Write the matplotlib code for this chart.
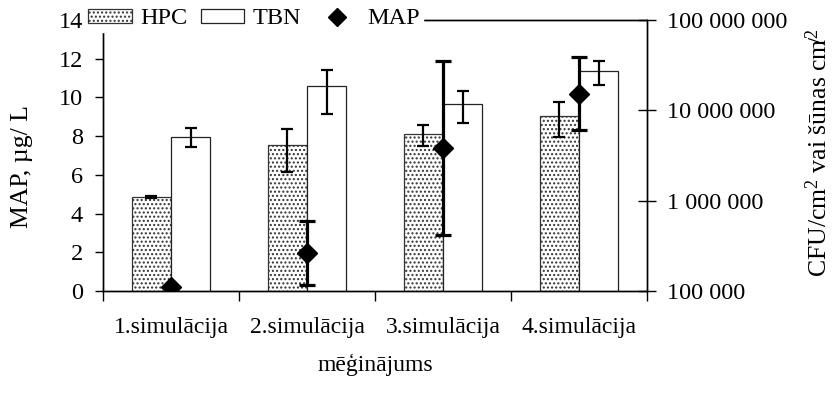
import matplotlib
matplotlib.use("Agg")
import matplotlib.pyplot as plt
import numpy as np
from matplotlib.lines import Line2D
from matplotlib.ticker import FixedLocator, FuncFormatter, NullFormatter, NullLocator

plt.rcParams['font.family'] = ['Liberation Serif', 'DejaVu Serif']
plt.rcParams['mathtext.fontset'] = 'custom'
plt.rcParams['mathtext.rm'] = 'Liberation Serif'
plt.rcParams['mathtext.it'] = 'Liberation Serif:italic'
plt.rcParams['hatch.linewidth'] = 1.0

# Data
categories = ["1.simulācija", "2.simulācija", "3.simulācija", "4.simulācija"]
hpc = [1.10e6, 4.13e6, 5.45e6, 8.65e6]
hpc_err = [0.03e6, 2.05e6, 1.45e6, 3.6e6]
tbn = [5.13e6, 1.87e7, 1.18e7, 2.70e7]
tbn_err = [1.2e6, 0.96e7, 4.5e6, 8.0e6]
map_vals = [0.2, 1.95, 7.4, 10.2]
map_err = [0.0, 1.65, 4.5, 1.9]
map_ticks = [0, 2, 4, 6, 8, 10, 12, 14]
cfu_ticks = [1e5, 1e6, 1e7, 1e8]

FS = 17.5      # tick numbers and legend
FS_CAT = 17    # category names and x title
FS_Y = 18.5    # vertical axis titles

fig = plt.figure(figsize=(8.34, 3.93), dpi=100)
ax_bars = fig.add_axes([103/834, 1-291/393, (647-103)/834, (291-20)/393])
ax_map = ax_bars.twinx()

x = np.arange(len(categories))
w = 0.287

# Bars on the logarithmic CFU axis
ax_bars.set_yscale('log')
ax_bars.set_ylim(1e5, 1e8)
ax_bars.bar(x - w/2, hpc, w, facecolor='white', edgecolor='#333333',
            linewidth=0.9, hatch='....', label='HPC', zorder=2)
ax_bars.bar(x + w/2, tbn, w, facecolor='white', edgecolor='#222222',
            linewidth=0.9, label='TBN', zorder=2)
ax_bars.errorbar(x - w/2, hpc, yerr=hpc_err, fmt='none', ecolor='black',
                 elinewidth=1.6, capsize=4.5, capthick=1.6, zorder=3)
ax_bars.errorbar(x + w/2, tbn, yerr=tbn_err, fmt='none', ecolor='black',
                 elinewidth=1.6, capsize=4.5, capthick=1.6, zorder=3)

# MAP on the linear axis
ax_map.set_ylim(0, 14)
ax_map.errorbar(x, map_vals, yerr=map_err, fmt='D', color='black', ms=10.5,
                elinewidth=2.3, capsize=6, capthick=2.3, zorder=4)

ax_bars.set_xlim(-0.5, 3.5)

# Axis placement: MAP left, CFU right
ax_map.yaxis.tick_left()
ax_map.yaxis.set_label_position('left')
ax_bars.yaxis.tick_right()
ax_bars.yaxis.set_label_position('right')

ax_map.set_yticks(map_ticks)
ax_map.tick_params(axis='y', which='major', direction='out', length=5.5, width=1,
                   labelsize=FS, pad=9)
ax_map.set_ylabel("MAP, µg/ L", fontsize=FS_Y, labelpad=18)
ax_map.yaxis.label.set_y(0.46)

ax_bars.yaxis.set_major_locator(FixedLocator(cfu_ticks))
ax_bars.yaxis.set_minor_locator(NullLocator())
ax_bars.yaxis.set_major_formatter(FuncFormatter(lambda v, p: f"{int(round(v)):,}".replace(",", " ")))
ax_bars.tick_params(axis='y', which='major', direction='inout', length=13, width=1,
                    labelsize=FS, pad=8)
ax_bars.set_ylabel(r"CFU/cm$^{2}$ vai šūnas cm$^{2}\!\!\!\!\!$/", fontsize=FS_Y, labelpad=13)
ax_bars.yaxis.label.set_y(0.51)

# Category boundaries as ticks, names between them
ax_bars.xaxis.set_major_locator(FixedLocator([-0.5, 0.5, 1.5, 2.5, 3.5]))
ax_bars.xaxis.set_major_formatter(NullFormatter())
ax_bars.xaxis.set_minor_locator(FixedLocator(x))
ax_bars.xaxis.set_minor_formatter(FuncFormatter(lambda v, p: categories[int(round(v))]))
ax_bars.tick_params(axis='x', which='major', direction='out', length=7, width=1)
ax_bars.tick_params(axis='x', which='minor', length=0, labelsize=FS_CAT, pad=19)
ax_bars.set_xlabel("mēģinājums", fontsize=FS_CAT, labelpad=11)
ax_map.tick_params(axis='x', which='both', bottom=False, top=False)

for ax in (ax_bars, ax_map):
    for s in ax.spines.values():
        s.set_linewidth(1.0)
        s.set_color('black')

# Legend sitting on the top frame line
h1, l1 = ax_bars.get_legend_handles_labels()
map_handle = Line2D([], [], marker='D', ls='none', color='black', ms=9.5)
leg = ax_map.legend(h1 + [map_handle], l1 + ['MAP'], ncol=3, loc='center left',
                    bbox_to_anchor=(85/834, 1-19/393), bbox_transform=fig.transFigure,
                    fontsize=FS, frameon=True, fancybox=False, framealpha=1,
                    edgecolor='white', facecolor='white', borderpad=0.12,
                    handlelength=1.8, handleheight=0.5, handletextpad=0.35,
                    columnspacing=0.55, borderaxespad=0)
leg.set_zorder(10)

fig.savefig("out.png", dpi=100)
